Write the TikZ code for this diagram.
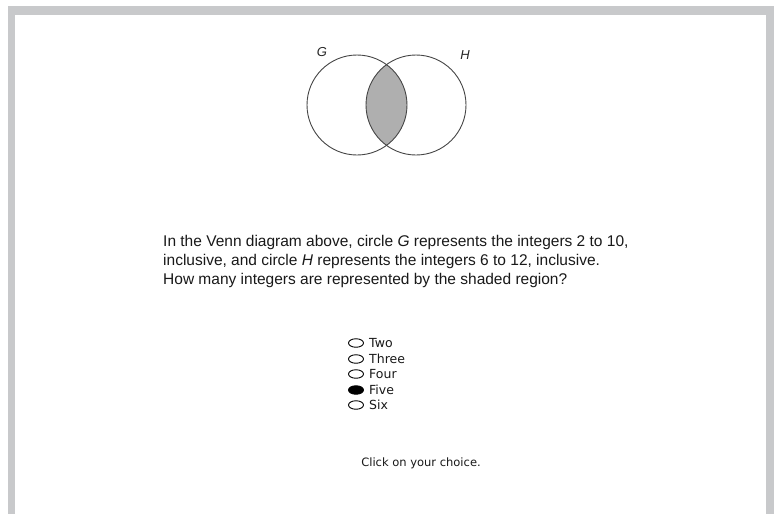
\documentclass[tikz,border=0pt]{standalone}
\usepackage{fontspec}
\setmainfont{Liberation Sans}
\newfontfamily\optfont{DejaVu Sans}
\definecolor{framegray}{RGB}{200,201,203}
\definecolor{lensgray}{RGB}{175,175,175}
\definecolor{linegray}{RGB}{70,70,70}
\usetikzlibrary{shapes.geometric}
\tikzset{
  vennc/.style={draw=linegray, line width=0.9pt},
  radio/.style={ellipse, draw=black, line width=0.9pt, minimum width=15pt, minimum height=8.5pt, inner sep=0pt},
  radiosel/.style={radio, fill=black},
  opt/.style={anchor=west, inner sep=0pt, font=\optfont\fontsize{12.5}{12}\selectfont, text=black!90},
  lab/.style={font=\fontsize{13}{13}\selectfont\itshape, text=black!85, inner sep=0pt}
}
\begin{document}
\begin{tikzpicture}[x=1pt, y=-1pt]
\useasboundingbox (0,0) rectangle (779,514);
\fill[white] (0,0) rectangle (779,514);
% frame
\fill[framegray] (8,6) rectangle (774,15);
\fill[framegray] (8,6) rectangle (15,514);
\fill[framegray] (766,6) rectangle (774,514);
% venn
\coordinate (cg) at (357,105);
\coordinate (ch) at (416,105);
\begin{scope}
  \clip (cg) circle (50);
  \fill[lensgray] (ch) circle (50);
\end{scope}
\draw[vennc] (cg) circle (50);
\draw[vennc] (ch) circle (50);
\node[lab] (lg) at (322,52) {G};
\node[lab] (lh) at (465,55) {H};
% question
\node[anchor=north west, inner sep=0pt, align=left, font=\fontsize{15.5}{19}\selectfont, text=black!90] (q) at (163,235)
{In the Venn diagram above, circle \textit{G} represents the integers 2 to 10,\\
inclusive, and circle \textit{H} represents the integers 6 to 12, inclusive.\\
How many integers are represented by the shaded region?};
% options
\node[radio] (r1) at (356,343) {};
\node[radio] (r2) at (356,359) {};
\node[radio] (r3) at (356,374) {};
\node[radiosel] (r4) at (356,390) {};
\node[radio] (r5) at (356,405) {};
\node[opt] (o1) at (369,343) {Two};
\node[opt] (o2) at (369,359) {Three};
\node[opt] (o3) at (369,374) {Four};
\node[opt] (o4) at (369,390) {Five};
\node[opt] (o5) at (369,405) {Six};
\node[inner sep=0pt, font=\optfont\fontsize{11.5}{12}\selectfont, text=black!90] (click) at (421,463) {Click on your choice.};
\end{tikzpicture}
\end{document}
